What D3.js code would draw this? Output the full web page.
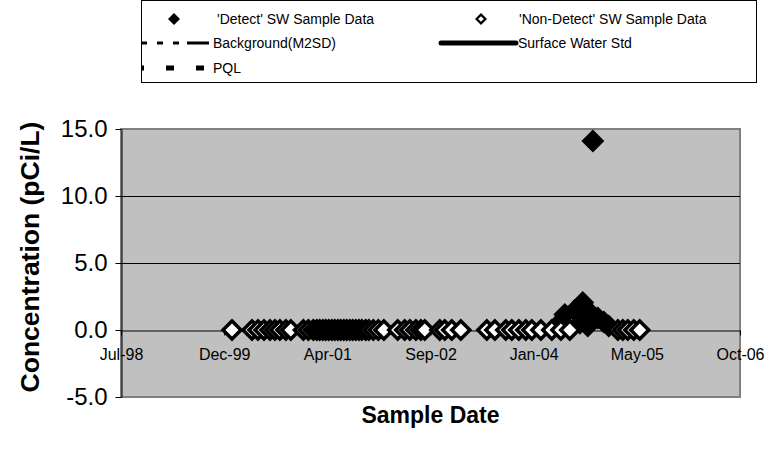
<!DOCTYPE html>
<html>
<head>
<meta charset="utf-8">
<script src="https://cdn.jsdelivr.net/npm/d3@7"></script>
<style>
  html, body { margin: 0; padding: 0; background: #fff; }
  svg { display: block; font-family: "Liberation Sans", Arial, sans-serif; }
</style>
</head>
<body>
<svg id="chart" width="778" height="461"></svg>
<script>
// Date axis: major unit of 500 days starting from 24 Jul 1998
const xTickDates = ["1998-07-24", "1999-12-06", "2001-04-19", "2002-09-01", "2004-01-14", "2005-05-28", "2006-10-10"];
const xTickLabels = ["Jul-98", "Dec-99", "Apr-01", "Sep-02", "Jan-04", "May-05", "Oct-06"];
const yTicks = [-5, 0, 5, 10, 15];
const yTickLabels = ["-5.0", "0.0", "5.0", "10.0", "15.0"];

// 'Detect' surface water results (pCi/L)
const detectDates = ["2004-05-10", "2004-06-13", "2004-07-31", "2004-08-25", "2004-09-08", "2004-10-02",
                     "2004-10-12", "2004-10-27", "2004-11-20", "2004-12-19", "2005-01-12"];
const detectValues = [0.4, 1.15, 1.45, 0.5, 2.05, 0.3, 1.3, 14.1, 0.9, 0.6, 0.3];

// 'Non-Detect' surface water results (reported at 0)
const nonDetectDates = [
  "2000-01-13", "2000-04-19", "2000-05-18", "2000-06-16", "2000-07-15", "2000-08-08", "2000-09-01",
  "2000-09-30", "2000-10-24", "2000-12-24", "2001-01-17", "2001-02-10", "2001-02-27", "2001-03-13",
  "2001-03-28", "2001-04-11", "2001-04-26", "2001-05-11", "2001-05-25", "2001-06-09", "2001-06-23",
  "2001-07-08", "2001-07-22", "2001-08-06", "2001-08-20", "2001-09-04", "2001-09-19", "2001-10-03",
  "2001-10-22", "2001-11-06", "2001-11-28", "2001-12-22", "2002-01-18", "2002-03-26", "2002-04-29",
  "2002-05-24", "2002-06-22", "2002-07-16", "2002-08-04", "2002-10-16", "2002-11-09", "2002-12-13",
  "2003-01-26", "2003-06-01", "2003-07-10", "2003-09-01", "2003-09-30", "2003-11-03", "2003-12-07",
  "2004-01-05", "2004-02-18", "2004-04-11", "2004-05-25", "2004-07-07", "2005-02-25", "2005-03-21",
  "2005-04-14", "2005-05-13", "2005-06-11"
];
const nonDetectValues = [
  0, 0, 0, 0, 0, 0, 0, 0, 0, 0, 0, 0, 0, 0, 0, 0, 0, 0, 0, 0, 0, 0, 0, 0, 0, 0, 0, 0, 0, 0,
  0, 0, 0, 0, 0, 0, 0, 0, 0, 0, 0, 0, 0, 0, 0, 0, 0, 0, 0, 0, 0, 0, 0, 0, 0, 0, 0, 0, 0
];

const legendItems = ["'Detect' SW Sample Data", "'Non-Detect' SW Sample Data", "Background(M2SD)", "Surface Water Std", "PQL"];
const xTitle = "Sample Date";
const yTitle = "Concentration (pCi/L)";

const parse = d3.utcParse("%Y-%m-%d");
const svg = d3.select("#chart");

const plot = { left: 121, right: 740, top: 129, bottom: 397 };
const x = d3.scaleUtc().domain([parse(xTickDates[0]), parse(xTickDates[xTickDates.length - 1])])
  .range([plot.left, plot.right]);
const y = d3.scaleLinear().domain([-5, 15]).range([plot.bottom, plot.top]);

const diamond = r => `M0,${-r}L${r},0L0,${r}L${-r},0Z`;

// plot area
svg.append("rect")
  .attr("x", plot.left).attr("y", plot.top)
  .attr("width", plot.right - plot.left).attr("height", plot.bottom - plot.top)
  .attr("fill", "#c0c0c0").attr("stroke", "#808080").attr("stroke-width", 2);

// horizontal gridlines
svg.append("g").selectAll("line").data(yTicks.filter(v => v > 0 && v < 15)).join("line")
  .attr("x1", plot.left).attr("x2", plot.right)
  .attr("y1", d => Math.round(y(d)) + 0.5).attr("y2", d => Math.round(y(d)) + 0.5)
  .attr("stroke", "#000").attr("stroke-width", 1);

// x axis along zero
const xAxis = d3.axisBottom(x)
  .tickValues(xTickDates.map(parse))
  .tickFormat((d, i) => xTickLabels[i])
  .tickSize(5).tickSizeOuter(0).tickPadding(13);
const gx = svg.append("g").attr("transform", `translate(0,${Math.round(y(0)) + 0.5})`).call(xAxis);
gx.select(".domain").attr("stroke", "#000");
gx.selectAll(".tick line").attr("stroke", "#000");
gx.selectAll(".tick text").attr("font-size", 16).attr("fill", "#000")
  .attr("font-family", "'Liberation Sans', Arial, sans-serif");

// detect markers
svg.append("g").selectAll("path").data(detectDates.map((d, i) => [parse(d), detectValues[i]])).join("path")
  .attr("transform", d => `translate(${x(d[0])},${y(d[1])})`)
  .attr("d", diamond(11.5)).attr("fill", "#000");

// non-detect markers: black outline with white centre
const nd = svg.append("g").selectAll("g").data(nonDetectDates.map((d, i) => [parse(d), nonDetectValues[i]])).join("g")
  .attr("transform", d => `translate(${x(d[0])},${y(d[1])})`);
nd.append("path").attr("d", diamond(11.5)).attr("fill", "#000");
nd.append("path").attr("d", diamond(6.5)).attr("fill", "#fff");

// y axis
const yAxis = d3.axisLeft(y).tickValues(yTicks).tickFormat((d, i) => yTickLabels[i])
  .tickSize(6).tickSizeOuter(0).tickPadding(8);
const gy = svg.append("g").attr("transform", `translate(${plot.left + 0.5},0)`).call(yAxis);
gy.select(".domain").attr("stroke", "#000");
gy.selectAll(".tick line").attr("stroke", "#000");
gy.selectAll(".tick text").attr("font-size", 24).attr("fill", "#000")
  .attr("font-family", "'Liberation Sans', Arial, sans-serif");

// axis titles
svg.append("text").attr("x", (plot.left + plot.right) / 2).attr("y", 423)
  .attr("text-anchor", "middle").attr("font-size", 23).attr("font-weight", "bold").text(xTitle);
svg.append("text").attr("transform", "translate(39,257) rotate(-90)")
  .attr("text-anchor", "middle").attr("font-size", 26.5).attr("font-weight", "bold").text(yTitle);

// legend
const lg = svg.append("g");
lg.append("rect").attr("x", 141.5).attr("y", 0.5).attr("width", 615).attr("height", 82)
  .attr("fill", "#fff").attr("stroke", "#000").attr("stroke-width", 1);
const rows = [19, 43, 68];
const lf = 14;
// row 1: markers
lg.append("path").attr("transform", `translate(174,${rows[0]})`).attr("d", diamond(6)).attr("fill", "#000");
lg.append("path").attr("transform", `translate(481,${rows[0]})`).attr("d", diamond(6)).attr("fill", "#000");
lg.append("path").attr("transform", `translate(481,${rows[0]})`).attr("d", diamond(2.8)).attr("fill", "#fff");
// row 2: background (long dash dot dot) and surface water standard (solid)
lg.append("line").attr("x1", 142).attr("x2", 209).attr("y1", rows[1]).attr("y2", rows[1])
  .attr("stroke", "#000").attr("stroke-width", 3)
  .attr("stroke-dasharray", "23,10,6,10,6,8").attr("stroke-dashoffset", 18);
lg.append("line").attr("x1", 441).attr("x2", 516).attr("y1", rows[1]).attr("y2", rows[1])
  .attr("stroke", "#000").attr("stroke-width", 5).attr("stroke-linecap", "round");
// row 3: PQL (heavy dash)
lg.append("line").attr("x1", 142).attr("x2", 204).attr("y1", rows[2]).attr("y2", rows[2])
  .attr("stroke", "#000").attr("stroke-width", 5)
  .attr("stroke-dasharray", "8,22").attr("stroke-dashoffset", 6);

const legendText = [
  [217, rows[0], legendItems[0]],
  [519, rows[0], legendItems[1]],
  [213, rows[1], legendItems[2]],
  [518, rows[1], legendItems[3]],
  [213, rows[2], legendItems[4]]
];
lg.selectAll("text.lt").data(legendText).join("text").attr("class", "lt")
  .attr("x", d => d[0]).attr("y", d => d[1] + 5)
  .attr("font-size", lf).attr("fill", "#000").text(d => d[2]);
</script>
</body>
</html>
